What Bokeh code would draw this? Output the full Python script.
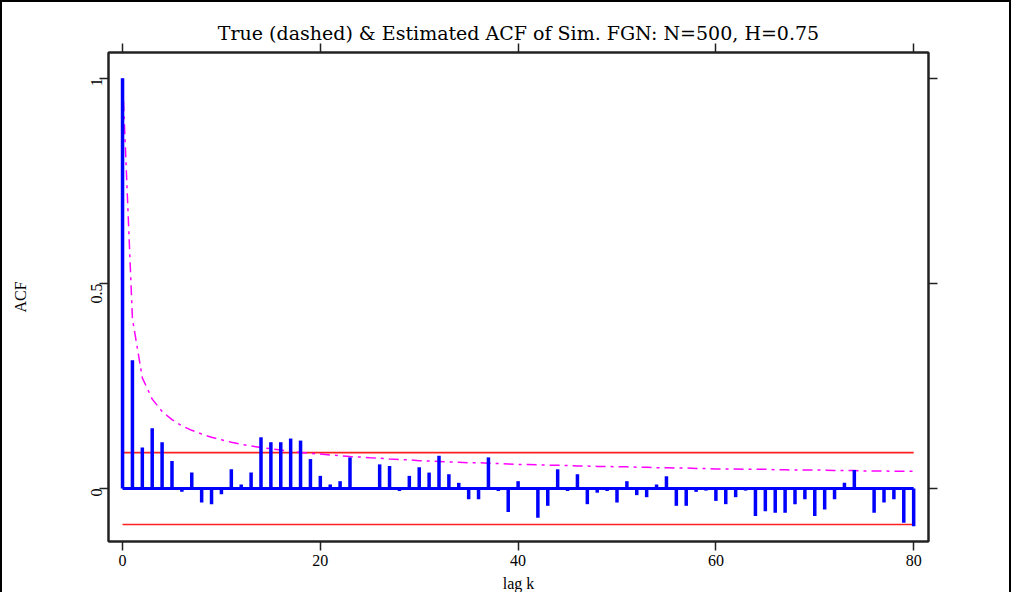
import math
from bokeh.plotting import figure
from bokeh.models import LinearAxis, FixedTicker, Range1d, Title
from bokeh.embed import file_html
from bokeh.resources import INLINE

# ---- data ----
lags = list(range(0, 81))

acf_est = [
    1.000, 0.313, 0.100, 0.147, 0.113, 0.067, -0.008, 0.039, -0.034, -0.038,
    -0.014, 0.047, 0.010, 0.039, 0.125, 0.113, 0.113, 0.122, 0.117, 0.072,
    0.031, 0.010, 0.018, 0.076, 0.002, -0.002, 0.059, 0.055, -0.006, 0.031,
    0.052, 0.039, 0.080, 0.035, 0.014, -0.026, -0.026, 0.076, -0.006, -0.057,
    0.018, 0.002, -0.071, -0.042, 0.047, -0.006, 0.035, -0.038, -0.010, -0.006,
    -0.034, 0.018, -0.016, -0.021, 0.010, 0.030, -0.042, -0.042, -0.008, -0.005,
    -0.030, -0.038, -0.021, -0.005, -0.067, -0.055, -0.059, -0.059, -0.038, -0.026,
    -0.067, -0.051, -0.026, 0.014, 0.045, 0.002, -0.059, -0.034, -0.026, -0.083,
    -0.092,
]

acf_true = [
    1.000, 0.414, 0.270, 0.218, 0.188, 0.168, 0.153, 0.142, 0.133, 0.125,
    0.119, 0.113, 0.108, 0.104, 0.100, 0.097, 0.094, 0.091, 0.088, 0.086,
    0.084, 0.082, 0.080, 0.078, 0.077, 0.075, 0.074, 0.072, 0.071, 0.070,
    0.068, 0.067, 0.066, 0.065, 0.064, 0.063, 0.063, 0.062, 0.061, 0.060,
    0.059, 0.059, 0.058, 0.057, 0.057, 0.056, 0.055, 0.055, 0.054, 0.054,
    0.053, 0.053, 0.052, 0.052, 0.051, 0.051, 0.050, 0.050, 0.049, 0.049,
    0.048, 0.048, 0.048, 0.047, 0.047, 0.047, 0.046, 0.046, 0.045, 0.045,
    0.045, 0.045, 0.044, 0.044, 0.044, 0.043, 0.043, 0.043, 0.042, 0.042,
    0.042,
]

conf_band = [0.0877, -0.0877]
x_ticks = [0, 20, 40, 60, 80]
y_ticks = [0, 0.5, 1]
y_tick_labels = {0: "0", 0.5: "0.5", 1: "1"}
title_text = "True (dashed) & Estimated ACF of Sim. FGN: N=500, H=0.75"

SERIF = "Liberation Serif"

p = figure(width=1011, height=592, output_backend="svg", toolbar_location=None,
           x_range=Range1d(-1.42, 81.5), y_range=Range1d(-0.129, 1.063),
           x_axis_location=None, y_axis_location=None,
           min_border_left=106, min_border_right=85, min_border_top=50,
           min_border_bottom=51)
p.styles = {"border-top": "2px solid black", "border-left": "2px solid black",
            "border-right": "2px solid black"}
p.grid.visible = False
p.outline_line_color = "#222222"
p.outline_line_width = 2
p.background_fill_color = "white"
p.border_fill_color = "white"

def style_axis(ax, labels=True):
    ax.axis_line_color = "#222222"
    ax.axis_line_width = 2
    ax.major_tick_line_color = "#222222"
    ax.major_tick_line_width = 1.5
    ax.major_tick_out = 9
    ax.major_tick_in = 0
    ax.minor_tick_line_color = None
    ax.major_label_text_font = SERIF
    ax.major_label_text_font_size = "16px"
    ax.major_label_text_color = "black" if labels else None
    ax.axis_label_text_font = SERIF
    ax.axis_label_text_font_size = "16px"
    ax.axis_label_text_font_style = "normal"
    ax.axis_label_text_color = "black"

left = LinearAxis(ticker=FixedTicker(ticks=y_ticks), axis_label="ACF")
left.major_label_overrides = y_tick_labels
left.major_label_orientation = math.pi / 2
style_axis(left)
left.major_label_standoff = 3
left.axis_label_standoff = 54
p.add_layout(left, "left")

right = LinearAxis(ticker=FixedTicker(ticks=y_ticks))
style_axis(right, labels=False)
right.major_label_text_font_size = "0px"
p.add_layout(right, "right")

bottom = LinearAxis(ticker=FixedTicker(ticks=x_ticks), axis_label="lag k")
style_axis(bottom)
bottom.major_label_standoff = 4
bottom.axis_label_standoff = 6
p.add_layout(bottom, "below")

top = LinearAxis(ticker=FixedTicker(ticks=x_ticks))
style_axis(top, labels=False)
top.major_label_text_font_size = "0px"
p.add_layout(top, "above")

p.title = Title(text=title_text, align="center", text_font="DejaVu Serif",
                text_font_size="19px", text_font_style="normal",
                text_color="black", standoff=0)

# confidence band lines
for c in conf_band:
    p.line(x=[lags[0], lags[-1]], y=[c, c], line_color="#FF2020", line_width=1.6)

# true ACF (dash-dot)
p.line(x=lags, y=acf_true, line_color="#FF00FF", line_width=1.5,
       line_dash="10 5 3 5")

# baseline and estimated ACF bars
p.line(x=[lags[0], lags[-1]], y=[0, 0], line_color="#0000FF", line_width=3)
p.segment(x0=lags, y0=[0] * len(lags), x1=lags, y1=acf_est,
          line_color="#0000FF", line_width=3.5)

open("out.html", "w").write(file_html(p, INLINE))
